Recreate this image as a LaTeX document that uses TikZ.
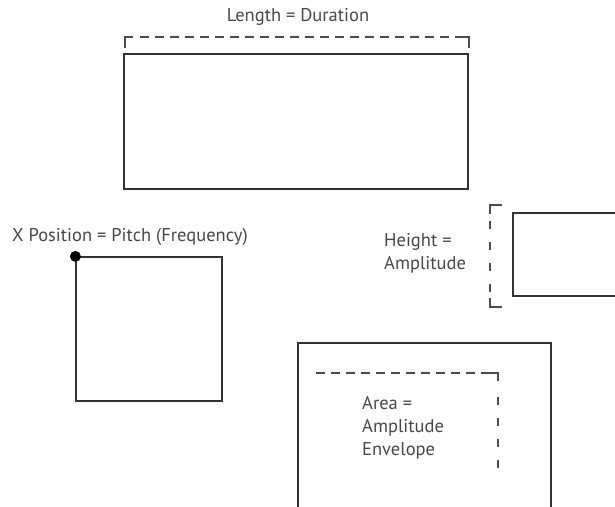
\documentclass[tikz,border=0pt]{standalone}
\usepackage{fontspec}
\setmainfont{PT Sans}
\usetikzlibrary{positioning}

\begin{document}
\begin{tikzpicture}[x=1pt, y=-1pt, box/.style={rectangle, draw=black!80, line width=1.2pt, inner sep=0pt}, bracket/.style={draw=black!70, line width=1.2pt, dash pattern=on 9pt off 6pt}, vbracket/.style={draw=black!70, line width=1.2pt, dash pattern=on 8pt off 13pt}, tick/.style={draw=black!70, line width=1.2pt}, lbl/.style={font=\fontsize{18.5}{23}\selectfont, text=black!72, align=left, inner sep=0pt}]
  \useasboundingbox (0,0) rectangle (615,506);
  % duration
  \node[box, minimum width=344pt, minimum height=135pt] (durbox) at (296,121.5) {};
  \node[lbl] (length) at (298,17) {Length = Duration};
  \draw[tick] (125,48) -- (125,37) -- (133,37);
  \draw[bracket] (140,37) -- (461,37);
  \draw[tick] (461,37) -- (469,37) -- (469,48);
  % pitch
  \node[box, minimum width=146pt, minimum height=144pt] (pitchbox) at (149,329) {};
  \node[circle, fill=black, inner sep=0pt, minimum size=11pt] (dot) at (pitchbox.north west) {};
  \node[lbl, anchor=west] (xpos) at (12,237) {X Position = Pitch (Frequency)};
  % amplitude
  \coordinate (amptop) at (620,213);
  \coordinate (ampbot) at (620,296);
  \draw[box] (amptop) -- (513,213) -- (513,296) -- (ampbot);
  \draw[tick] (502,205) -- (490,205) -- (490,214);
  \draw[vbracket] (490,221) -- (490,298);
  \draw[tick] (490,298) -- (490,307) -- (502,307);
  \node[lbl, anchor=west] (height) at (384,253) {Height =\\Amplitude};
  % envelope
  \coordinate (envleft) at (298,510);
  \coordinate (envright) at (551,510);
  \draw[box] (envleft) -- (298,343) -- (551,343) -- (envright);
  \draw[bracket] (316,373) -- (490,373);
  \draw[tick] (490,373) -- (498,373) -- (498,381);
  \draw[vbracket] (498,397) -- (498,477);
  \node[lbl, anchor=west] (area) at (362,428) {Area =\\Amplitude\\Envelope};
\end{tikzpicture}
\end{document}
